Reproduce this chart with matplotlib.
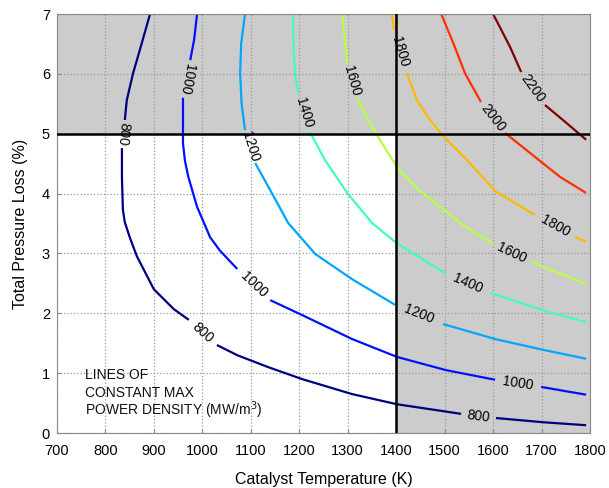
import math
import numpy as np
import matplotlib
matplotlib.use("Agg")
from matplotlib import pyplot as plt

plt.rcParams['font.family'] = ['Liberation Sans', 'DejaVu Sans']

# contour levels of max power density (MW/m^3)
levels = [800, 1000, 1200, 1400, 1600, 1800, 2000, 2200]

# each line is split in pieces, the gaps between pieces hold the labels
c800_t = [[892, 871, 857, 844, 840],
          [834, 834, 836, 840, 851, 865, 900, 941, 972],
          [1030, 1072, 1136, 1206, 1309, 1402, 1534],
          [1606, 1703, 1792]]
c800_p = [[7.0, 6.40, 6.01, 5.56, 5.23],
          [4.76, 4.28, 3.73, 3.52, 3.25, 2.95, 2.40, 2.07, 1.89],
          [1.47, 1.30, 1.10, 0.90, 0.65, 0.48, 0.32],
          [0.25, 0.18, 0.13]]

c1000_t = [[989, 983, 975],
           [960, 960, 964, 971, 989, 1016, 1036, 1072],
           [1140, 1206, 1309, 1402, 1503, 1604],
           [1699, 1792]]
c1000_p = [[7.0, 6.57, 6.23],
           [5.6, 4.84, 4.55, 4.28, 3.78, 3.27, 3.05, 2.74],
           [2.22, 1.97, 1.57, 1.27, 1.05, 0.89],
           [0.77, 0.64]]

c1200_t = [[1088, 1080, 1078, 1081, 1088],
           [1109, 1144, 1177, 1233, 1309, 1398],
           [1497, 1604, 1703, 1792]]
c1200_p = [[7.0, 6.5, 6.01, 5.5, 5.06],
           [4.51, 4.0, 3.51, 2.99, 2.57, 2.14],
           [1.82, 1.57, 1.39, 1.24]]

c1400_t = [[1187, 1188, 1191, 1198],
           [1222, 1253, 1300, 1350, 1398, 1437, 1503],
           [1594, 1703, 1792]]
c1400_p = [[7.0, 6.5, 6.01, 5.68],
           [5.03, 4.56, 4.0, 3.51, 3.19, 2.99, 2.66],
           [2.34, 2.05, 1.85]]

c1600_t = [[1288, 1295, 1299],
           [1319, 1342, 1360, 1402, 1439, 1490, 1538, 1600],
           [1678, 1730, 1792]]
c1600_p = [[7.0, 6.52, 6.18],
           [5.6, 5.23, 4.98, 4.44, 4.11, 3.78, 3.47, 3.16],
           [2.86, 2.69, 2.49]]

c1800_t = [[1391, 1396],
           [1422, 1443, 1470, 1495, 1552, 1606, 1687],
           [1769, 1792]]
c1800_p = [[7.0, 6.73],
           [6.01, 5.56, 5.23, 4.98, 4.51, 4.03, 3.64],
           [3.27, 3.2]]

c2000_t = [[1493, 1518, 1542, 1575],
           [1625, 1676, 1738, 1792]]
c2000_p = [[7.0, 6.51, 6.01, 5.53],
           [5.01, 4.68, 4.28, 4.01]]

c2200_t = [[1600, 1635, 1658],
           [1707, 1744, 1792]]
c2200_p = [[7.0, 6.45, 6.03],
           [5.48, 5.23, 4.9]]

lines_t = [c800_t, c1000_t, c1200_t, c1400_t, c1600_t, c1800_t, c2000_t, c2200_t]
lines_p = [c800_p, c1000_p, c1200_p, c1400_p, c1600_p, c1800_p, c2000_p, c2200_p]

x_ticks = list(range(700, 1801, 100))
y_ticks = list(range(0, 8))

note_lines = ['LINES OF', 'CONSTANT MAX', 'POWER DENSITY (MW/m$^3$)']

fig = plt.figure(figsize=(6.09, 4.88), dpi=100)
ax = fig.add_axes([0.0936, 0.1127, 0.8752, 0.8586])
ax.set_xlim(700, 1800)
ax.set_ylim(0, 7)

# regions outside the allowed window
ax.axhspan(5, 7, color='#cccccc', zorder=0, lw=0)
ax.axvspan(1400, 1800, color='#cccccc', zorder=0, lw=0)
ax.set_axisbelow(True)
ax.grid(True, linestyle=':', color='#999999', lw=0.9)

colors = plt.cm.jet(np.linspace(0, 1, len(levels)))

for lev, col, ts, ps in zip(levels, colors, lines_t, lines_p):
    for t, p in zip(ts, ps):
        ax.plot(t, p, color=col, lw=1.6, zorder=2, solid_capstyle='butt',
                solid_joinstyle='round')
    # labels sit in the gaps, turned along the line
    for i in range(len(ts) - 1):
        t0, p0 = ts[i][-1], ps[i][-1]
        t1, p1 = ts[i + 1][0], ps[i + 1][0]
        x0, y0 = ax.transData.transform((t0, p0))
        x1, y1 = ax.transData.transform((t1, p1))
        ang = math.degrees(math.atan2(y1 - y0, x1 - x0))
        ax.text((t0 + t1) / 2, (p0 + p1) / 2, str(lev), fontsize=10,
                rotation=ang, rotation_mode='anchor',
                ha='center', va='center', zorder=4)

ax.axhline(5, color='black', lw=1.8, zorder=3)
ax.axvline(1400, color='black', lw=1.8, zorder=3)

for k, s in enumerate(note_lines):
    ax.text(758, 0.97 - 0.295 * k, s, fontsize=10, va='center', ha='left',
            color='#111111')

ax.set_xticks(x_ticks)
ax.set_yticks(y_ticks)
ax.tick_params(direction='in', length=3, color='#888888', labelsize=10.5)
ax.tick_params(axis='x', pad=8)
ax.tick_params(axis='y', pad=5)
for s in ax.spines.values():
    s.set_color('#888888')

ax.set_xlabel('Catalyst Temperature (K)', fontsize=11.5, labelpad=10)
ax.set_ylabel('Total Pressure Loss (%)', fontsize=11.5, labelpad=10)

fig.savefig('out.png', dpi=100)
